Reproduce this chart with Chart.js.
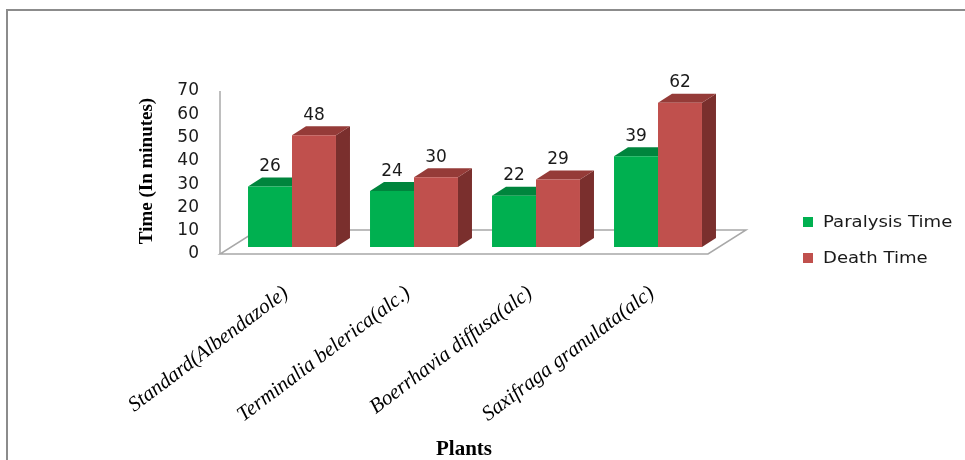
<!DOCTYPE html>
<html>
<head>
<meta charset="utf-8">
<script src="https://cdn.jsdelivr.net/npm/chart.js@4"></script>
<style>
  html, body { margin: 0; padding: 0; background: #fff; }
  canvas { display: block; }
</style>
</head>
<body>
<canvas id="chart" width="965" height="460"></canvas>
<script>
// Anthelmintic activity: time to paralysis and death per plant extract
const categories = [
  'Standard(Albendazole)',
  'Terminalia belerica(alc.)',
  'Boerrhavia diffusa(alc)',
  'Saxifraga granulata(alc)'
];
const paralysisTime = [26, 24, 22, 39];
const deathTime = [48, 30, 29, 62];
const yTicks = [0, 10, 20, 30, 40, 50, 60, 70];
const seriesNames = ['Paralysis Time', 'Death Time'];

// face colours for the extruded columns: front, top, side
const palette = [
  { front: '#00B050', top: '#00853D', side: '#006B30' },
  { front: '#C0504D', top: '#953B38', side: '#7A2F2D' }
];

// depth of each column and of the floor slab
const BAR_DX = 14, BAR_DY = -9;
const FLOOR_FRONT = { dx: -11, dy: 7 };
const FLOOR_BACK = { dx: 27, dy: -17 };

function poly(ctx, pts, fill) {
  ctx.beginPath();
  ctx.moveTo(pts[0][0], pts[0][1]);
  for (let i = 1; i < pts.length; i++) ctx.lineTo(pts[i][0], pts[i][1]);
  ctx.closePath();
  ctx.fillStyle = fill;
  ctx.fill();
}

const depthPlugin = {
  id: 'depth3d',
  beforeDatasetsDraw(chart) {
    const { ctx, chartArea: a, scales: { y } } = chart;
    const y0 = y.getPixelForValue(0);
    const yMax = y.getPixelForValue(yTicks[yTicks.length - 1]);
    ctx.save();
    // floor slab outline
    ctx.strokeStyle = '#a8a8a8';
    ctx.lineWidth = 1.5;
    ctx.beginPath();
    ctx.moveTo(a.left + FLOOR_FRONT.dx, y0 + FLOOR_FRONT.dy);
    ctx.lineTo(a.right + FLOOR_FRONT.dx, y0 + FLOOR_FRONT.dy);
    ctx.lineTo(a.right + FLOOR_BACK.dx, y0 + FLOOR_BACK.dy);
    ctx.lineTo(a.left + FLOOR_BACK.dx, y0 + FLOOR_BACK.dy);
    ctx.closePath();
    ctx.stroke();
    // value axis edge
    ctx.beginPath();
    ctx.moveTo(a.left + FLOOR_FRONT.dx, y0 + FLOOR_FRONT.dy);
    ctx.lineTo(a.left + FLOOR_FRONT.dx, yMax + FLOOR_FRONT.dy);
    ctx.stroke();

    // tops and sides of the columns (front faces drawn by Chart.js)
    chart.data.datasets.forEach((ds, i) => {
      const col = palette[i];
      chart.getDatasetMeta(i).data.forEach(bar => {
        const p = bar.getProps(['x', 'y', 'base', 'width'], true);
        const l = p.x - p.width / 2, r = p.x + p.width / 2;
        poly(ctx, [[r, p.y], [r + BAR_DX, p.y + BAR_DY], [r + BAR_DX, p.base + BAR_DY], [r, p.base]], col.side);
        poly(ctx, [[l, p.y], [r, p.y], [r + BAR_DX, p.y + BAR_DY], [l + BAR_DX, p.y + BAR_DY]], col.top);
      });
    });
    ctx.restore();
  },
  afterDatasetsDraw(chart) {
    const { ctx, chartArea: a, scales: { x, y } } = chart;
    ctx.save();
    // value labels above each column
    ctx.fillStyle = '#1a1a1a';
    ctx.font = '17px "DejaVu Sans"';
    ctx.textAlign = 'center';
    ctx.textBaseline = 'middle';
    chart.data.datasets.forEach((ds, i) => {
      chart.getDatasetMeta(i).data.forEach((bar, j) => {
        ctx.fillText(String(ds.data[j]), bar.x, bar.y - 20);
      });
    });

    // value axis tick labels
    ctx.textAlign = 'right';
    yTicks.forEach(v => {
      ctx.fillText(String(v), a.left - 32, y.getPixelForValue(v) + FLOOR_FRONT.dy);
    });

    // category labels, slanted
    ctx.font = 'italic 21px "Liberation Serif"';
    ctx.fillStyle = '#000';
    ctx.textAlign = 'right';
    ctx.textBaseline = 'middle';
    const ang = -37 * Math.PI / 180;
    categories.forEach((c, i) => {
      const px = x.getPixelForValue(i);
      ctx.save();
      ctx.translate(px - 6, 291);
      ctx.rotate(ang);
      ctx.fillText(c, 0, 0);
      ctx.restore();
    });

    // axis titles
    ctx.font = 'bold 19px "Liberation Serif"';
    ctx.textAlign = 'center';
    ctx.save();
    ctx.translate(147, 171);
    ctx.rotate(-Math.PI / 2);
    ctx.fillText('Time (In minutes)', 0, 0);
    ctx.restore();
    ctx.font = 'bold 21px "Liberation Serif"';
    ctx.fillText('Plants', 464, 450);

    // legend
    ctx.textAlign = 'left';
    ctx.textBaseline = 'alphabetic';
    ctx.font = '16px "DejaVu Sans"';
    seriesNames.forEach((name, i) => {
      const ty = 227 + i * 36;
      ctx.fillStyle = palette[i].front;
      ctx.fillRect(803, ty - 10, 10, 10);
      ctx.fillStyle = '#1a1a1a';
      ctx.save();
      ctx.translate(823, ty);
      ctx.scale(1.13, 1);
      ctx.fillText(name, 0, 0);
      ctx.restore();
    });
    ctx.restore();
  },
  afterDraw(chart) {
    const { ctx } = chart;
    ctx.save();
    ctx.strokeStyle = '#8c8c8c';
    ctx.lineWidth = 2;
    ctx.beginPath();
    ctx.moveTo(7, 460);
    ctx.lineTo(7, 10);
    ctx.lineTo(965, 10);
    ctx.stroke();
    ctx.restore();
  }
};

new Chart(document.getElementById('chart'), {
  type: 'bar',
  data: {
    labels: categories,
    datasets: [
      { label: seriesNames[0], data: paralysisTime, backgroundColor: palette[0].front },
      { label: seriesNames[1], data: deathTime, backgroundColor: palette[1].front }
    ]
  },
  options: {
    responsive: false,
    animation: false,
    devicePixelRatio: 1,
    layout: { padding: { left: 231, right: 246, top: 84, bottom: 213 } },
    datasets: { bar: { categoryPercentage: 0.721, barPercentage: 1, borderWidth: 0 } },
    plugins: { legend: { display: false }, tooltip: { enabled: false } },
    scales: {
      x: { display: false, offset: true },
      y: { display: false, min: 0, max: 70 }
    }
  },
  plugins: [depthPlugin]
});
</script>
</body>
</html>
